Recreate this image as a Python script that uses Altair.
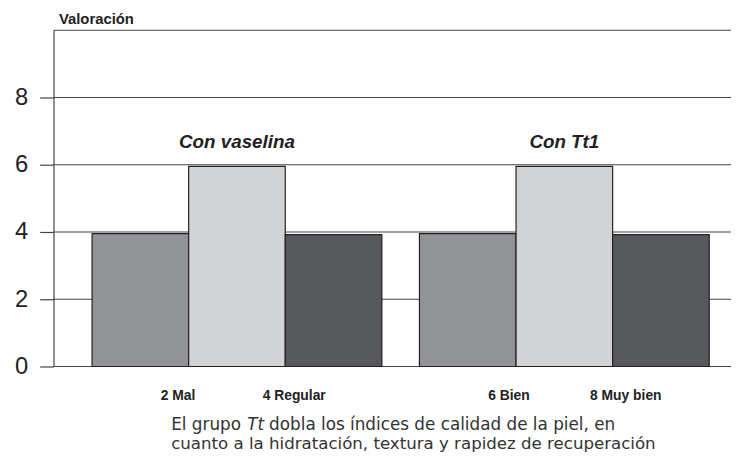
import altair as alt
import pandas as pd

# ---- data ----
groups = ["Con vaselina", "Con Tt1"]
series = ["Hidratación", "Textura", "Rapidez de recuperación"]
vals_vaselina = [3.95, 5.95, 3.92]
vals_tt1 = [3.95, 5.95, 3.92]
bar_colors = ["#929397", "#d2d3d5", "#57585c"]
y_ticks = [0, 2, 4, 6, 8]
y_top = 10
group_label_y = 6.5
scale_labels = ["2 Mal", "4 Regular", "6 Bien", "8 Muy bien"]
scale_label_group = ["Con vaselina", "Con vaselina", "Con Tt1", "Con Tt1"]
scale_label_side = ["left", "right", "left", "right"]
scale_label_y = -1.0
caption_a = "El grupo"
caption_b = "Tt"
caption_c = "dobla los índices de calidad de la piel, en"
caption_d = "cuanto a la hidratación, textura y rapidez de recuperación"

rows = []
for g, vals in zip(groups, [vals_vaselina, vals_tt1]):
    for s, v in zip(series, vals):
        rows.append({"grupo": g, "serie": s, "valor": v})
bars_df = pd.DataFrame(rows)

labels_df = pd.DataFrame({"grupo": scale_label_group, "texto": scale_labels,
                          "lado": scale_label_side, "y": [scale_label_y] * 4})
groups_df = pd.DataFrame({"grupo": groups, "y": [group_label_y] * 2})
grid_df = pd.DataFrame({"y": y_ticks + [y_top]})

W, H = 685, 340
FONT = "Liberation Sans"

xscale = alt.Scale(domain=groups, range=[39, 663], paddingInner=0.1148, paddingOuter=0)
yscale = alt.Scale(domain=[0, y_top], nice=False, zero=True)

yaxis = alt.Axis(values=y_ticks, title="Valoración", titleAngle=0, titleX=5, titleY=-7,
                 titleAlign="left", titleBaseline="alphabetic", titleFont=FONT,
                 titleFontSize=15, titleFontWeight="bold", titleColor="#222",
                 labelFont=FONT, labelFontSize=24, labelColor="#222", labelPadding=12,
                 tickSize=14, tickColor="#444", tickWidth=1.2,
                 domainColor="#444", domainWidth=1.2, grid=False)

grid = alt.Chart(grid_df).mark_rule(color="#444", strokeWidth=1.2).encode(
    y=alt.Y("y:Q", scale=yscale, axis=yaxis)
)

bars = alt.Chart(bars_df).mark_bar(stroke="#222", strokeWidth=1.2).encode(
    x=alt.X("grupo:N", scale=xscale, sort=groups, axis=None),
    xOffset=alt.XOffset("serie:N", sort=series, scale=alt.Scale(paddingInner=0, paddingOuter=0)),
    y=alt.Y("valor:Q", scale=yscale, axis=yaxis),
    color=alt.Color("serie:N", sort=series,
                    scale=alt.Scale(domain=series, range=bar_colors), legend=None),
)

group_text = alt.Chart(groups_df).mark_text(
    font=FONT, fontSize=19, fontWeight="bold", fontStyle="italic", color="#222",
    baseline="alphabetic", align="center"
).encode(
    x=alt.X("grupo:N", scale=xscale, sort=groups),
    y=alt.Y("y:Q", scale=yscale),
    text="grupo:N",
)

def side_labels(side, dx):
    return alt.Chart(labels_df).transform_filter(alt.datum.lado == side).mark_text(
        font=FONT, fontSize=14, fontWeight="bold", color="#222",
        baseline="alphabetic", align="left", dx=dx
    ).encode(
        x=alt.X("grupo:N", scale=xscale, sort=groups),
        y=alt.Y("y:Q", scale=yscale),
        text="texto:N",
    )

def caption(txt, x, y, size=17, italic=False):
    return alt.Chart(pd.DataFrame({"t": [txt]})).mark_text(
        font="DejaVu Sans", fontSize=size, color="#333", align="left",
        baseline="alphabetic", fontStyle="italic" if italic else "normal"
    ).encode(x=alt.value(x), y=alt.value(y), text="t:N")

chart = alt.layer(
    grid, bars, group_text,
    side_labels("left", -77), side_labels("right", 26),
    caption(caption_a, 119, 404), caption(caption_b, 196, 404, italic=True),
    caption(caption_c, 218, 404), caption(caption_d, 119, 423, size=16.8),
).properties(
    width=W, height=H,
    autosize=alt.AutoSizeParams(type="none"),
    padding={"left": 46, "top": 20, "right": 0, "bottom": 86},
).configure_view(stroke=None)

chart.save("out.html", embed_options={"renderer": "svg", "actions": False})
